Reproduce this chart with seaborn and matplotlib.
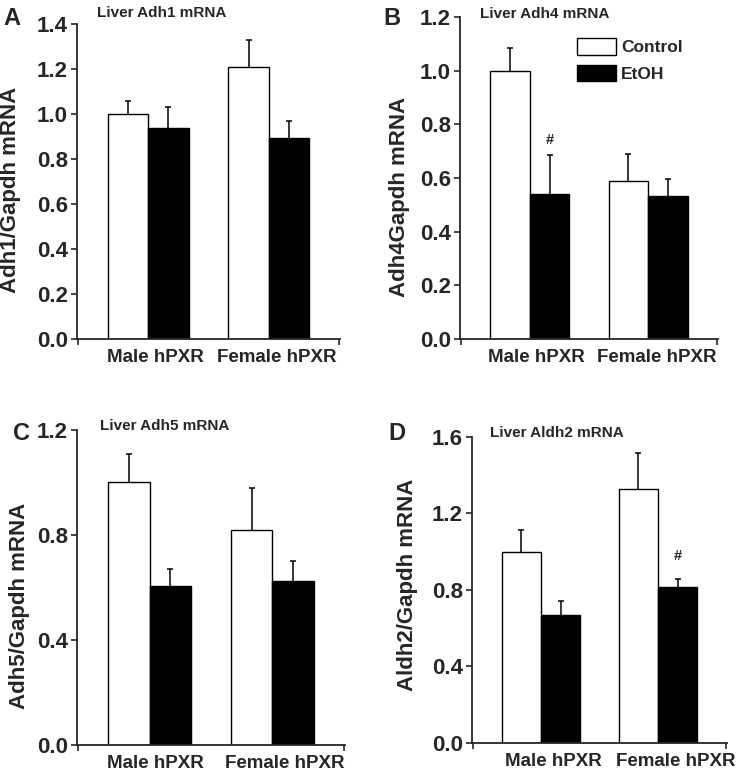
import matplotlib
matplotlib.use("Agg")
import matplotlib.pyplot as plt
import matplotlib.transforms as mtransforms
from matplotlib.patches import Patch
import seaborn as sns
import pandas as pd

# groups and treatments
groups = ["Male hPXR", "Female hPXR"]
treatments = ["Control", "EtOH"]

# Liver Adh1
adh1_control = [1.00, 1.21]
adh1_control_err = [0.06, 0.12]
adh1_etoh = [0.94, 0.895]
adh1_etoh_err = [0.09, 0.075]

# Liver Adh4
adh4_control = [1.00, 0.59]
adh4_control_err = [0.083, 0.10]
adh4_etoh = [0.54, 0.532]
adh4_etoh_err = [0.146, 0.064]

# Liver Adh5
adh5_control = [1.00, 0.82]
adh5_control_err = [0.11, 0.16]
adh5_etoh = [0.607, 0.626]
adh5_etoh_err = [0.063, 0.076]

# Liver Aldh2
aldh2_control = [1.00, 1.33]
aldh2_control_err = [0.113, 0.188]
aldh2_etoh = [0.669, 0.817]
aldh2_etoh_err = [0.073, 0.038]

sns.set_style("ticks")
plt.rcParams["font.family"] = ["Liberation Sans", "DejaVu Sans"]
plt.rcParams["font.weight"] = "bold"

fig = plt.figure(figsize=(7.39, 7.77), dpi=100)

panels = [
    dict(letter="A", title="Liver Adh1 mRNA", ylabel="Adh1/Gapdh mRNA",
         control=adh1_control, control_err=adh1_control_err,
         etoh=adh1_etoh, etoh_err=adh1_etoh_err,
         ymax=1.4, yticks=[0.0, 0.2, 0.4, 0.6, 0.8, 1.0, 1.2, 1.4],
         rect=[0.1042, 0.5637, 0.3559, 0.4054], letter_xy=(3, 25), title_xy=(97, 17),
         ylab=(-0.251, 0.473), shift=(7, 8), hash=None, legend=False),
    dict(letter="B", title="Liver Adh4 mRNA", ylabel="Adh4Gapdh mRNA",
         control=adh4_control, control_err=adh4_control_err,
         etoh=adh4_etoh, etoh_err=adh4_etoh_err,
         ymax=1.2, yticks=[0.0, 0.2, 0.4, 0.6, 0.8, 1.0, 1.2],
         rect=[0.6225, 0.5637, 0.3491, 0.4144], letter_xy=(383, 25), title_xy=(480, 18),
         ylab=(-0.233, 0.441), shift=(7, 9), hash=(0, 0.715), legend=True),
    dict(letter="C", title="Liver Adh5 mRNA", ylabel="Adh5/Gapdh mRNA",
         control=adh5_control, control_err=adh5_control_err,
         etoh=adh5_etoh, etoh_err=adh5_etoh_err,
         ymax=1.2, yticks=[0.0, 0.4, 0.8, 1.2],
         rect=[0.1042, 0.0412, 0.3627, 0.4054], letter_xy=(13, 440), title_xy=(100, 430),
         ylab=(-0.213, 0.441), shift=(6, 12), hash=None, legend=False),
    dict(letter="D", title="Liver Aldh2 mRNA", ylabel="Aldh2/Gapdh mRNA",
         control=aldh2_control, control_err=aldh2_control_err,
         etoh=aldh2_etoh, etoh_err=aldh2_etoh_err,
         ymax=1.6, yticks=[0.0, 0.4, 0.8, 1.2, 1.6],
         rect=[0.6387, 0.0438, 0.3451, 0.3938], letter_xy=(388, 440), title_xy=(490, 437),
         ylab=(-0.251, 0.516), shift=(12, 18), hash=(1, 0.94), legend=False),
]

W, H = 739.0, 777.0
xmin, xmax = -0.59, 1.59

for p in panels:
    ax = fig.add_axes(p["rect"])
    df = pd.DataFrame({
        "group": groups * 2,
        "treatment": [treatments[0]] * 2 + [treatments[1]] * 2,
        "value": p["control"] + p["etoh"],
        "err": p["control_err"] + p["etoh_err"],
    })
    sns.barplot(data=df, x="group", y="value", hue="treatment", order=groups,
                hue_order=treatments, palette={"Control": "white", "EtOH": "black"},
                edgecolor="black", linewidth=1.0, width=0.67, errorbar=None,
                legend=False, ax=ax)

    # upper-only error bars on each bar
    for cont, tr in zip(ax.containers, treatments):
        sub = df[df["treatment"] == tr].set_index("group").loc[groups]
        xs = [b.get_x() + b.get_width() / 2 for b in cont]
        ys = [b.get_height() for b in cont]
        _, caps, _ = ax.errorbar(xs, ys, yerr=[[0] * len(xs), sub["err"].values],
                                 fmt="none", ecolor="black", elinewidth=1.1,
                                 capsize=2.5, capthick=1.1, zorder=1)
        caps[0].set_visible(False)

    ax.set_xlim(xmin, xmax)
    ax.set_ylim(0, p["ymax"])
    ax.set_yticks(p["yticks"])
    ax.set_yticklabels([f"{t:.1f}" for t in p["yticks"]], fontsize=16, fontweight="bold")
    ax.set_xticks([0, 1])
    ax.set_xticklabels(groups, fontsize=13.5, fontweight="bold")
    ax.set_xticks([xmin + 0.005, xmax - 0.005], minor=True)
    ax.tick_params(axis="x", which="major", length=0, pad=7)
    ax.tick_params(axis="x", which="minor", length=4, width=1.2, direction="out")
    ax.tick_params(axis="y", length=4.5, width=1.2, pad=2, direction="out")
    for lab, dx in zip(ax.get_xticklabels(), p["shift"]):
        lab.set_transform(lab.get_transform() +
                          mtransforms.ScaledTranslation(dx / 100.0, 0, fig.dpi_scale_trans))

    ax.set_xlabel("")
    ax.set_ylabel(p["ylabel"], fontsize=16, fontweight="bold", va="center")
    ax.yaxis.set_label_coords(*p["ylab"])
    sns.despine(ax=ax)
    for s in ["left", "bottom"]:
        ax.spines[s].set_linewidth(1.3)

    if p["hash"] is not None:
        gi, yv = p["hash"]
        bar = ax.containers[1][gi]
        ax.text(bar.get_x() + bar.get_width() / 2, yv, "#", ha="center", va="bottom",
                fontsize=10.5, fontweight="bold")

    if p["legend"]:
        handles = [Patch(facecolor="white", edgecolor="black", linewidth=1.0, label="Control"),
                   Patch(facecolor="black", edgecolor="black", linewidth=1.0, label="EtOH")]
        ax.legend(handles=handles, loc="upper left", bbox_to_anchor=(0.455, 0.935),
                  frameon=False, prop={"size": 12.5, "weight": "bold"},
                  handlelength=2.2, handleheight=1.1, handletextpad=0.3,
                  labelspacing=0.55, borderpad=0, borderaxespad=0)

    lx, ly = p["letter_xy"]
    fig.text(lx / W, 1 - ly / H, p["letter"], fontsize=17, fontweight="bold",
             ha="left", va="baseline")
    tx, ty = p["title_xy"]
    fig.text(tx / W, 1 - ty / H, p["title"], fontsize=11, fontweight="bold",
             ha="left", va="baseline")

fig.savefig("out.png", dpi=100, facecolor="white")
